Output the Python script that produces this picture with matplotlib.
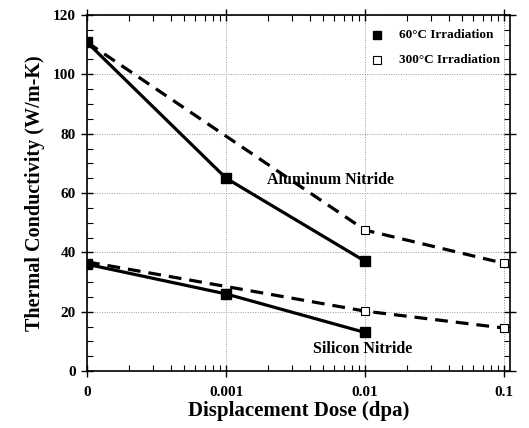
import matplotlib
matplotlib.use("Agg")
import matplotlib.pyplot as plt
from matplotlib.ticker import FixedLocator, FixedFormatter, MultipleLocator

# dose positions; the "0" dose is drawn at 1e-4 on the log axis
dose = [1e-4, 0.001, 0.01, 0.1]
dose_labels = ["0", "0.001", "0.01", "0.1"]

# 60 C irradiation (solid, filled squares)
aln_60_x = [1e-4, 0.001, 0.01]
aln_60_y = [110.8, 65, 37]
sin_60_x = [1e-4, 0.001, 0.01]
sin_60_y = [36, 26, 13]

# 300 C irradiation (dashed, open squares)
aln_300_x = [1e-4, 0.01, 0.1]
aln_300_y = [110.8, 47.5, 36.3]
sin_300_x = [1e-4, 0.01, 0.1]
sin_300_y = [36.8, 20.2, 14.5]

plt.rcParams['font.family'] = ['Liberation Serif', 'DejaVu Serif']
plt.rcParams['font.weight'] = 'bold'

fig = plt.figure(figsize=(5.29, 4.28), dpi=100)
ax = fig.add_axes([0.1645, 0.133, 0.7995, 0.832])

# dashed lines first so the solid markers sit on top
for xs, ys in [(aln_300_x, aln_300_y), (sin_300_x, sin_300_y)]:
    ax.plot(xs, ys, color="black", lw=2.3, ls=(0, (4, 2.5)), zorder=3)
    ax.plot(xs[1:], ys[1:], ls="none", marker="s", ms=6, mfc="white",
            mec="black", mew=0.8, zorder=4)

for xs, ys in [(aln_60_x, aln_60_y), (sin_60_x, sin_60_y)]:
    ax.plot(xs, ys, color="black", lw=2.3, marker="s", ms=6.5, zorder=5)

ax.set_xscale("log")
ax.set_xlim(1e-4, 0.11)
ax.set_ylim(0, 120)

ax.xaxis.set_major_locator(FixedLocator(dose))
ax.xaxis.set_major_formatter(FixedFormatter(dose_labels))
minor_x = [m * 10.0 ** e for e in (-4, -3, -2) for m in range(2, 10)]
ax.xaxis.set_minor_locator(FixedLocator(minor_x))
ax.xaxis.set_minor_formatter(FixedFormatter([""] * len(minor_x)))
ax.yaxis.set_major_locator(MultipleLocator(20))
ax.yaxis.set_minor_locator(MultipleLocator(5))

ax.tick_params(which="major", direction="inout", length=8, width=1.0,
               top=True, right=True, labelsize=11)
ax.tick_params(which="minor", direction="in", length=4, width=0.8,
               top=True, right=True)
ax.tick_params(axis="x", which="major", pad=7)
ax.tick_params(axis="y", which="major", pad=4)
for lab in ax.get_xticklabels() + ax.get_yticklabels():
    lab.set_fontweight("bold")

for s in ax.spines.values():
    s.set_linewidth(1.2)

ax.grid(True, which="major", ls=(0, (1, 1.5)), color="#999999", lw=0.7)
ax.set_axisbelow(True)

ax.set_xlabel("Displacement Dose (dpa)", fontsize=15, fontweight="bold", labelpad=1)
ax.set_ylabel("Thermal Conductivity (W/m-K)", fontsize=14.5, fontweight="bold", labelpad=6)

ax.text(0.00197, 64.3, "Aluminum Nitride", fontsize=11.5, fontweight="bold", va="center")
ax.text(0.0042, 7.4, "Silicon Nitride", fontsize=11.5, fontweight="bold", va="center")

# legend drawn by hand like the original
ax.plot([0.0122], [113.2], ls="none", marker="s", ms=6, color="black")
ax.plot([0.0122], [104.8], ls="none", marker="s", ms=6, mfc="white",
        mec="black", mew=0.8)
ax.text(0.0176, 113.2, "60°C Irradiation", fontsize=9.5, fontweight="bold", va="center")
ax.text(0.0176, 104.8, "300°C Irradiation", fontsize=9.5, fontweight="bold", va="center")

fig.savefig("out.png", dpi=100)
